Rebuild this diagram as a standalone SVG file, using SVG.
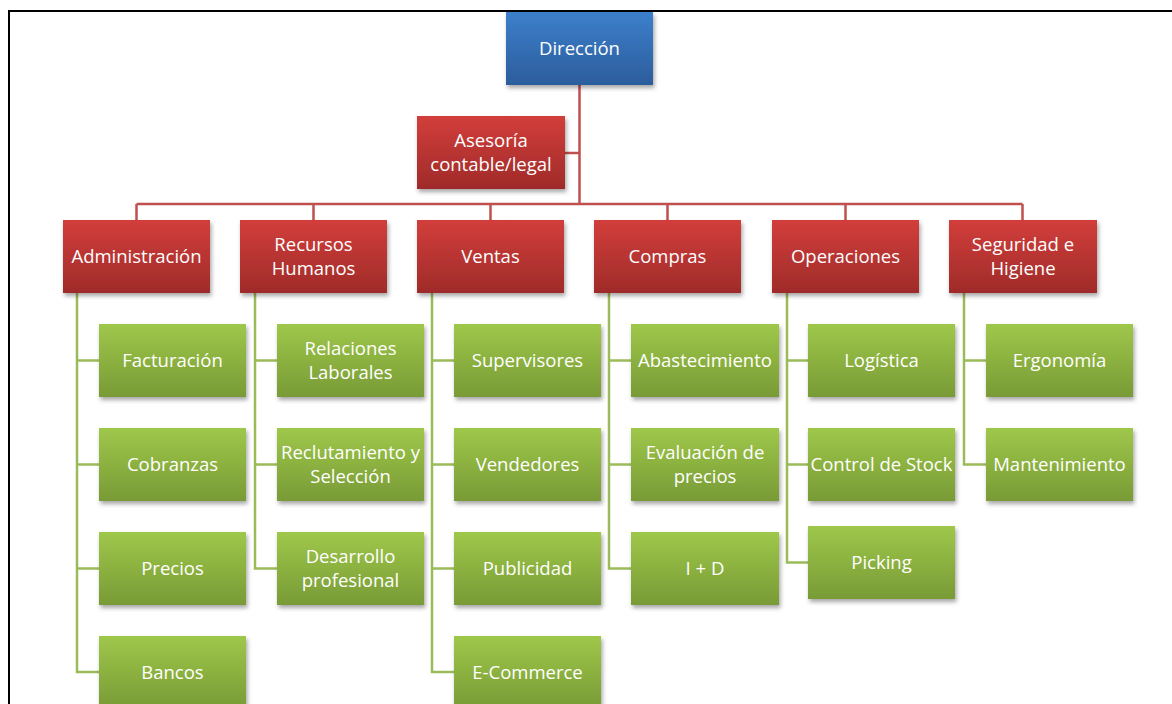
<svg xmlns="http://www.w3.org/2000/svg" width="1172" height="704" viewBox="0 0 1172 704">
<defs>
<linearGradient id="gb" x1="0" y1="0" x2="0" y2="1"><stop offset="0" stop-color="#3c7fcc"/><stop offset="1" stop-color="#2c5d9c"/></linearGradient>
<linearGradient id="gr" x1="0" y1="0" x2="0" y2="1"><stop offset="0" stop-color="#d23e3b"/><stop offset="1" stop-color="#9f2b29"/></linearGradient>
<linearGradient id="gg" x1="0" y1="0" x2="0" y2="1"><stop offset="0" stop-color="#9fc74a"/><stop offset="1" stop-color="#789b36"/></linearGradient>
<filter id="sh" x="-10%" y="-10%" width="130%" height="140%"><feDropShadow dx="1.5" dy="3" stdDeviation="2" flood-color="#000" flood-opacity="0.35"/></filter>
<style>
.b{fill:url(#gb);filter:url(#sh)}
.r{fill:url(#gr);filter:url(#sh)}
.g{fill:url(#gg);filter:url(#sh)}
text{font-family:"Open Sans","Noto Sans","Liberation Sans",sans-serif;font-size:18.5px;fill:#fff;text-anchor:middle}
.rl{fill:none;stroke:#c0504d;stroke-width:2.5}
.gl{fill:none;stroke:#9bbb59;stroke-width:2.5}
</style>
</defs>
<rect x="9" y="11" width="1200" height="720" fill="#fff" stroke="#000" stroke-width="2"/>
<g id="connectors">
<path class="rl" d="M579.5 85V204M565 153H579.5M136.5 204H1022.5M136.5 204V220M313.5 204V220M490.5 204V220M667.5 204V220M845.5 204V220M1022.5 204V220"/>
<path class="gl" d="M77 293V672H99M77 360.5H99M77 464.5H99M77 568.5H99"/>
<path class="gl" d="M255 293V568.5H277M255 360.5H277M255 464.5H277"/>
<path class="gl" d="M432 293V672H454M432 360.5H454M432 464.5H454M432 568.5H454"/>
<path class="gl" d="M609 293V568.5H631M609 360.5H631M609 464.5H631"/>
<path class="gl" d="M787 293V562.5H808M787 360.5H808M787 464.5H808"/>
<path class="gl" d="M964 293V464.5H986M964 360.5H986"/>
</g>
<g id="n-direccion"><rect class="b" x="506" y="12" width="147" height="73"/><text x="579.5" y="55">Dirección</text></g>
<g id="n-asesoria"><rect class="r" x="417" y="116" width="148" height="73"/><text x="491" y="147">Asesoría</text><text x="491" y="171">contable/legal</text></g>
<g id="n-administracion"><rect class="r" x="63" y="220" width="147" height="73"/><text x="136.5" y="263">Administración</text></g>
<g id="n-rrhh"><rect class="r" x="240" y="220" width="147" height="73"/><text x="313.5" y="251">Recursos</text><text x="313.5" y="275">Humanos</text></g>
<g id="n-ventas"><rect class="r" x="417" y="220" width="147" height="73"/><text x="490.5" y="263">Ventas</text></g>
<g id="n-compras"><rect class="r" x="594" y="220" width="147" height="73"/><text x="667.5" y="263">Compras</text></g>
<g id="n-operaciones"><rect class="r" x="772" y="220" width="147" height="73"/><text x="845.5" y="263">Operaciones</text></g>
<g id="n-seguridad"><rect class="r" x="949" y="220" width="148" height="73"/><text x="1023" y="251">Seguridad e</text><text x="1023" y="275">Higiene</text></g>
<g id="n-facturacion"><rect class="g" x="99" y="324" width="147" height="73"/><text x="172.5" y="367">Facturación</text></g>
<g id="n-cobranzas"><rect class="g" x="99" y="428" width="147" height="73"/><text x="172.5" y="471">Cobranzas</text></g>
<g id="n-precios"><rect class="g" x="99" y="532" width="147" height="73"/><text x="172.5" y="575">Precios</text></g>
<g id="n-bancos"><rect class="g" x="99" y="636" width="147" height="73"/><text x="172.5" y="679">Bancos</text></g>
<g id="n-relaciones"><rect class="g" x="277" y="324" width="147" height="73"/><text x="350.5" y="355">Relaciones</text><text x="350.5" y="379">Laborales</text></g>
<g id="n-reclutamiento"><rect class="g" x="277" y="428" width="147" height="73"/><text x="350.5" y="459">Reclutamiento y</text><text x="350.5" y="483">Selección</text></g>
<g id="n-desarrollo"><rect class="g" x="277" y="532" width="147" height="73"/><text x="350.5" y="563">Desarrollo</text><text x="350.5" y="587">profesional</text></g>
<g id="n-supervisores"><rect class="g" x="454" y="324" width="147" height="73"/><text x="527.5" y="367">Supervisores</text></g>
<g id="n-vendedores"><rect class="g" x="454" y="428" width="147" height="73"/><text x="527.5" y="471">Vendedores</text></g>
<g id="n-publicidad"><rect class="g" x="454" y="532" width="147" height="73"/><text x="527.5" y="575">Publicidad</text></g>
<g id="n-ecommerce"><rect class="g" x="454" y="636" width="147" height="73"/><text x="527.5" y="679">E-Commerce</text></g>
<g id="n-abastecimiento"><rect class="g" x="631" y="324" width="148" height="73"/><text x="705" y="367">Abastecimiento</text></g>
<g id="n-evaluacion"><rect class="g" x="631" y="428" width="148" height="73"/><text x="705" y="459">Evaluación de</text><text x="705" y="483">precios</text></g>
<g id="n-imasd"><rect class="g" x="631" y="532" width="148" height="73"/><text x="705" y="575">I + D</text></g>
<g id="n-logistica"><rect class="g" x="808" y="324" width="147" height="73"/><text x="881.5" y="367">Logística</text></g>
<g id="n-stock"><rect class="g" x="808" y="428" width="147" height="73"/><text x="881.5" y="471">Control de Stock</text></g>
<g id="n-picking"><rect class="g" x="808" y="526" width="147" height="73"/><text x="881.5" y="569">Picking</text></g>
<g id="n-ergonomia"><rect class="g" x="986" y="324" width="147" height="73"/><text x="1059.5" y="367">Ergonomía</text></g>
<g id="n-mantenimiento"><rect class="g" x="986" y="428" width="147" height="73"/><text x="1059.5" y="471">Mantenimiento</text></g>
</svg>
